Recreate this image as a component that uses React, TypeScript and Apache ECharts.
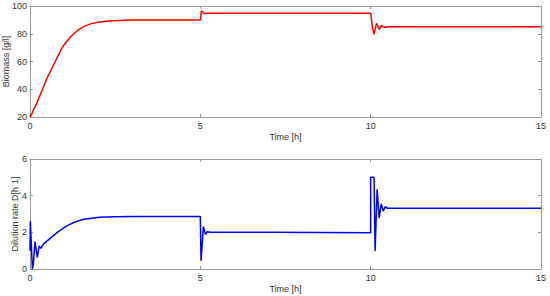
import React, { useEffect, useRef } from "react";
import * as echarts from "echarts";

const timeTicks = [0, 5, 10, 15];

const biomassT = [0, 0.05, 0.1, 0.2, 0.3, 0.4, 0.5, 0.6, 0.7, 0.8, 0.9, 1.0, 1.2, 1.4, 1.6, 1.8, 2.0, 2.3, 2.6, 3.0, 4.0, 5.0,
  5.03, 5.08, 5.12, 5.2, 6, 8, 10.0,
  10.05, 10.1, 10.17, 10.25, 10.32, 10.4, 10.5, 11, 13, 15];
const biomassV = [20, 22, 25, 30, 36, 42, 48, 53, 58, 63, 68, 72, 78, 82.5, 85.5, 87.3, 88.3, 89.2, 89.6, 89.9, 90, 90,
  96.5, 95.5, 94.5, 94.8, 94.8, 94.8, 94.8,
  85, 79.5, 87.5, 83.1, 86, 84.5, 85, 85, 85, 85];

const dilutionT = [0, 0.01, 0.07, 0.1, 0.147, 0.215, 0.27, 0.32, 0.39, 0.59, 0.8, 1.08, 1.3, 1.57, 2.05, 2.5, 3.03, 4, 5.0,
  5.02, 5.09, 5.15, 5.2, 5.3, 7, 10.0,
  10.0, 10.1, 10.13, 10.19, 10.25, 10.31, 10.37, 10.43, 10.5, 12, 15];
const dilutionV = [1.0, 2.6, 0, 0.3, 1.5, 0.64, 1.25, 1.13, 1.36, 1.67, 2.0, 2.35, 2.55, 2.71, 2.82, 2.85, 2.86, 2.86, 2.86,
  0.45, 2.31, 1.89, 2.03, 2.0, 2.0, 1.98,
  5, 5, 0.98, 4.35, 2.77, 3.55, 3.16, 3.4, 3.31, 3.31, 3.31];

const biomassTicks = [20, 40, 60, 80, 100];
const dilutionTicks = [0, 2, 4, 6];

export default function App() {
  const ref = useRef<HTMLDivElement>(null);
  useEffect(() => {
    if (!ref.current) return;
    const chart = echarts.init(ref.current, null, { renderer: "svg" });
    const axisColor = "#9a9a9a";
    const textColor = "#333";
    const font = "Liberation Sans";
    const xBase = (gridIndex: number, pos: "bottom" | "top", labels: boolean) => ({
      type: "value",
      gridIndex,
      position: pos,
      min: timeTicks[0],
      max: timeTicks[timeTicks.length - 1],
      interval: 5,
      name: labels ? "Time [h]" : "",
      nameLocation: "middle",
      nameGap: 15,
      nameMoveOverlap: false,
      nameTextStyle: { color: textColor, fontSize: 9, fontFamily: font },
      axisLine: { show: true, onZero: false, lineStyle: { color: axisColor, width: 1 } },
      axisTick: { show: true, inside: true, length: 3, lineStyle: { color: axisColor } },
      axisLabel: { show: labels, color: textColor, fontSize: 9, fontFamily: font, margin: 4 },
      splitLine: { show: false },
    });
    const yBase = (gridIndex: number, pos: "left" | "right", labels: boolean, min: number, max: number, interval: number, name: string, gap: number) => ({
      type: "value",
      gridIndex,
      position: pos,
      min,
      max,
      interval,
      name: labels ? name : "",
      nameLocation: "middle",
      nameGap: gap,
      nameRotate: 90,
      nameMoveOverlap: false,
      nameTextStyle: { color: textColor, fontSize: 9, fontFamily: font },
      axisLine: { show: true, onZero: false, lineStyle: { color: axisColor, width: 1 } },
      axisTick: { show: true, inside: true, length: 3, lineStyle: { color: axisColor } },
      axisLabel: { show: labels, color: textColor, fontSize: 9, fontFamily: font, margin: 3 },
      splitLine: { show: false },
    });
    chart.setOption({
      animation: false,
      backgroundColor: "#ffffff",
      grid: [
        { left: 30, right: 9, top: 6, height: 111, containLabel: false, outerBoundsMode: "none" },
        { left: 30, right: 9, top: 159, height: 110, containLabel: false, outerBoundsMode: "none" },
      ],
      xAxis: [xBase(0, "bottom", true), xBase(0, "top", false), xBase(1, "bottom", true), xBase(1, "top", false)],
      yAxis: [
        yBase(0, "left", true, biomassTicks[0], biomassTicks[biomassTicks.length - 1], 20, "Biomass [g/l]", 20),
        yBase(0, "right", false, biomassTicks[0], biomassTicks[biomassTicks.length - 1], 20, "", 0),
        yBase(1, "left", true, dilutionTicks[0], dilutionTicks[dilutionTicks.length - 1], 2, "Dilution rate D[h⁻1]", 11),
        yBase(1, "right", false, dilutionTicks[0], dilutionTicks[dilutionTicks.length - 1], 2, "", 0),
      ],
      series: [
        {
          type: "line",
          xAxisIndex: 0,
          yAxisIndex: 0,
          data: biomassT.map((t, i) => [t, biomassV[i]]),
          showSymbol: false,
          lineStyle: { color: "#ff0000", width: 1.5 },
          itemStyle: { color: "#ff0000" },
        },
        {
          type: "line",
          xAxisIndex: 2,
          yAxisIndex: 2,
          data: dilutionT.map((t, i) => [t, dilutionV[i]]),
          showSymbol: false,
          lineStyle: { color: "#0000ff", width: 1.5 },
          itemStyle: { color: "#0000ff" },
        },
      ],
    });
    return () => chart.dispose();
  }, []);
  return <div ref={ref} style={{ width: 550, height: 296, position: "absolute", left: 0, top: 0 }} />;
}
